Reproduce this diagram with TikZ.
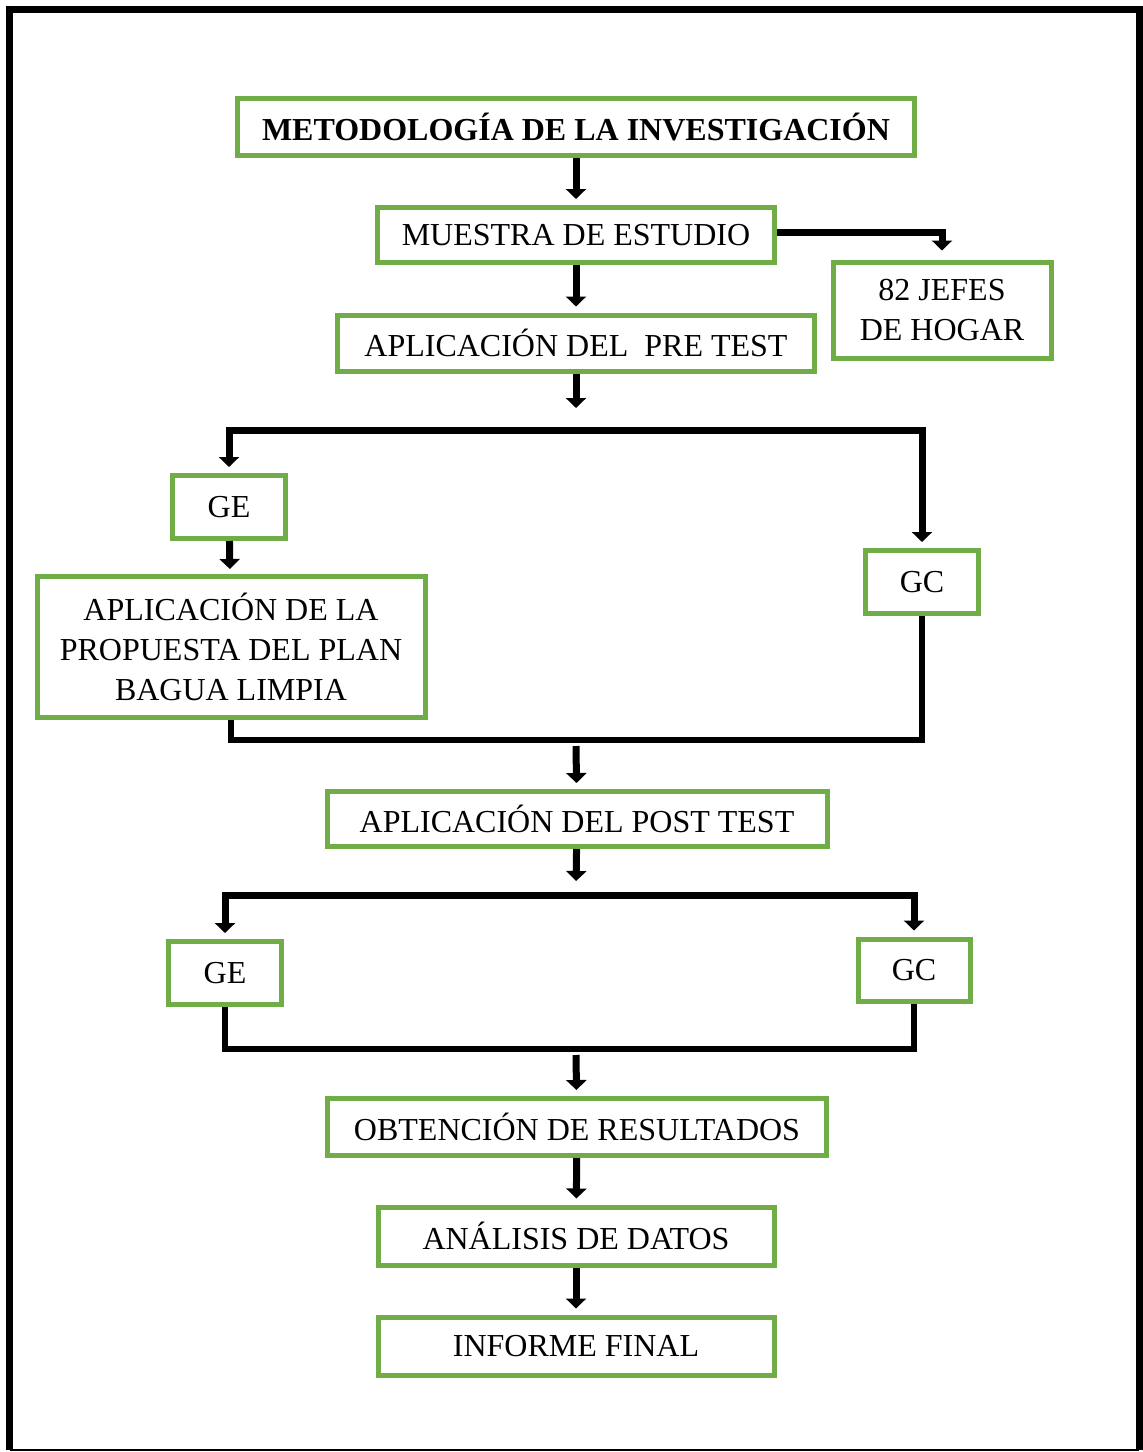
\documentclass[tikz,border=0pt]{standalone}
\usepackage{fontspec}
\setmainfont{Liberation Serif}
\usetikzlibrary{arrows.meta, positioning}
\definecolor{verde}{HTML}{70AD47}
\tikzset{
	caja/.style={draw=verde, line width=2.5pt, rectangle, inner sep=2pt, align=center, fill=white},
	titulo/.style={caja, font=\fontsize{16}{20}\selectfont\bfseries},
	flecha/.style={line width=3.5pt, -{Triangle[width=10pt,length=5pt]}, shorten >=3pt},
	linea/.style={line width=3pt},
}

\begin{document}
\begin{tikzpicture}[x=0.5pt, y=-0.5pt, font=\fontsize{16}{20}\selectfont]
	\useasboundingbox (0,0) rectangle (1143,1452);
	% marco
	\draw[line width=3.5pt] (9.5,1450) -- (9.5,9.5) -- (1139,9.5) -- (1139,1450);
	\draw[line width=1pt] (9.5,1450) -- (1139,1450);
	
	\node (tit) [titulo, minimum width=338.5pt, minimum height=28.5pt] at (576,127) {METODOLOGÍA DE LA INVESTIGACIÓN};
	\node (mue) [caja, minimum width=198.5pt, minimum height=27.5pt] at (576,235) {MUESTRA DE ESTUDIO};
	\node (jef) [caja, minimum width=109pt, minimum height=48pt] at (942,310) {82 JEFES\\DE HOGAR};
	\node (pre) [caja, minimum width=238.5pt, minimum height=28pt] at (576,343) {APLICACIÓN DEL\ \ PRE TEST};
	
	\node (ge1) [caja, minimum width=56.5pt, minimum height=31.5pt] at (229,507) {GE};
	\node (gc1) [caja, minimum width=56.5pt, minimum height=31.5pt] at (922,582) {GC};
	\node (pro) [caja, minimum width=194pt, minimum height=70.5pt] at (231,647) {APLICACIÓN DE LA\\PROPUESTA DEL PLAN\\BAGUA LIMPIA};
	
	\node (pos) [caja, minimum width=250pt, minimum height=27.5pt] at (577,819) {APLICACIÓN DEL POST TEST};
	\node (ge2) [caja, minimum width=56.5pt, minimum height=31.5pt] at (225,973) {GE};
	\node (gc2) [caja, minimum width=56pt, minimum height=31pt] at (914,970) {GC};
	
	\node (obt) [caja, minimum width=249.5pt, minimum height=28.5pt] at (577,1127) {OBTENCIÓN DE RESULTADOS};
	\node (ana) [caja, minimum width=198pt, minimum height=29pt] at (576,1236) {ANÁLISIS DE DATOS};
	\node (inf) [caja, minimum width=198pt, minimum height=29pt] at (576,1346) {INFORME FINAL};
	
	\coordinate (s1) at (576,430);
	\coordinate (m1) at (576,740);
	\coordinate (s2) at (576,895);
	\coordinate (m2) at (576,1049);
	
	\draw[flecha] (tit) -- (mue);
	\draw[flecha, shorten >=4.5pt] ([yshift=1.5pt]mue.east) -| (jef);
	\draw[flecha] (mue) -- (pre);
	
	% pre test: GE y GC
	\draw[flecha] (pre) -- ([yshift=8pt]s1);
	\draw[flecha] (s1) -| (ge1);
	\draw[flecha] (s1) -| (gc1);
	\draw[flecha, shorten >=2.5pt] (ge1) -- (pro);
	\draw[linea] (pro.south) |- (m1) -| (gc1.south);
	\draw[flecha] ([yshift=-3pt]m1) -- (pos);
	
	% post test: GE y GC
	\draw[flecha] (pos) -- ([yshift=4pt]s2);
	\draw[flecha] (s2) -| (ge2);
	\draw[flecha] (s2) -| (gc2);
	\draw[linea] (ge2.south) |- (m2) -| (gc2.south);
	\draw[flecha] ([yshift=-3pt]m2) -- (obt);
	
	\draw[flecha] (obt) -- (ana);
	\draw[flecha] (ana) -- (inf);
\end{tikzpicture}
\end{document}
